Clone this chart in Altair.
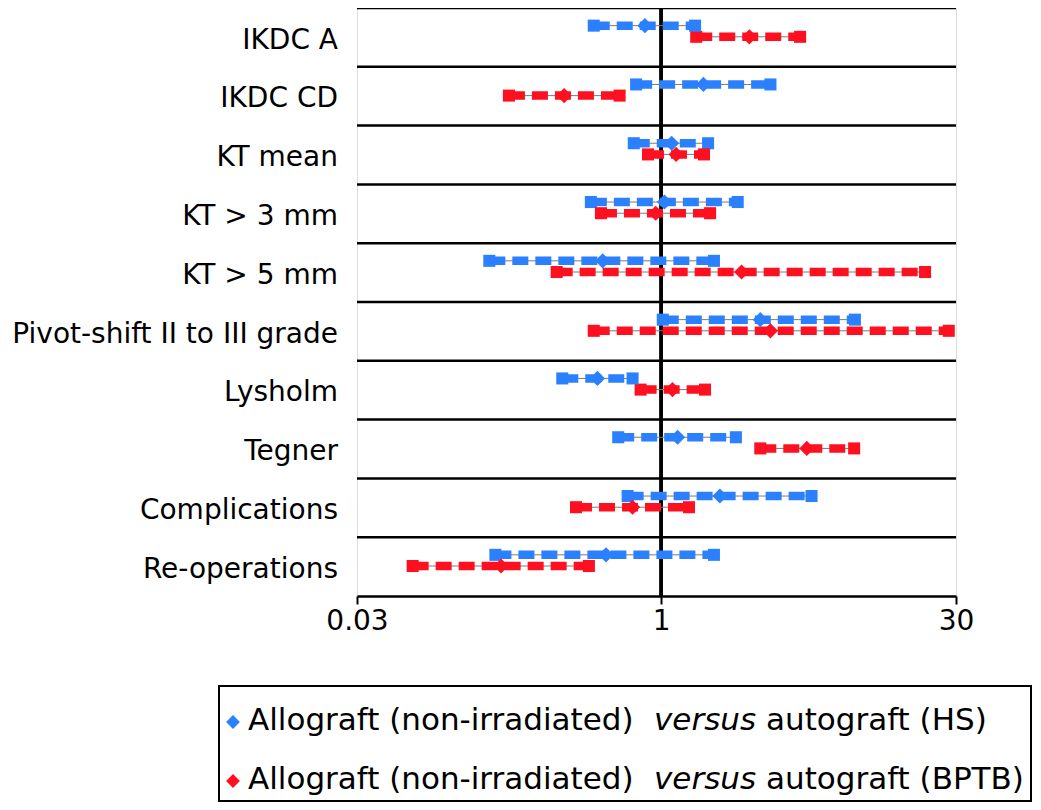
import altair as alt
import pandas as pd

categories = ["IKDC A", "IKDC CD", "KT mean", "KT > 3 mm", "KT > 5 mm",
              "Pivot-shift II to III grade", "Lysholm", "Tegner",
              "Complications", "Re-operations"]
series_names = ["Allograft (non-irradiated) versus autograft (HS)",
                "Allograft (non-irradiated) versus autograft (BPTB)"]
series_colors = ["#2b80ff", "#ff1020"]

hs_lower = [0.46, 0.75, 0.73, 0.445, 0.138, 1.02, 0.32, 0.61, 0.68, 0.148]
hs_point = [0.83, 1.63, 1.13, 1.04, 0.51, 3.14, 0.48, 1.21, 1.97, 0.53]
hs_upper = [1.48, 3.53, 1.72, 2.42, 1.84, 9.35, 0.72, 2.37, 5.67, 1.84]

bptb_lower = [1.50, 0.173, 0.86, 0.50, 0.30, 0.46, 0.79, 3.14, 0.375, 0.057]
bptb_point = [2.77, 0.327, 1.19, 0.94, 2.53, 3.53, 1.14, 5.37, 0.72, 0.158]
bptb_upper = [4.97, 0.62, 1.64, 1.76, 21.0, 27.6, 1.66, 9.27, 1.38, 0.435]

x_ticks = [0.03, 1, 30]

legend_prefix = "Allograft (non-irradiated)"
legend_italic = "versus"
legend_suffixes = ["autograft (HS)", "autograft (BPTB)"]

# ---------------------------------------------------------------
rows = []
for i, c in enumerate(categories):
    rows.append(dict(category=c, idx=i, series=series_names[0], off=0.30,
                     lo=hs_lower[i], pt=hs_point[i], hi=hs_upper[i]))
    rows.append(dict(category=c, idx=i, series=series_names[1], off=0.49,
                     lo=bptb_lower[i], pt=bptb_point[i], hi=bptb_upper[i]))
df = pd.DataFrame(rows)
cat_df = pd.DataFrame({"category": categories, "idx": list(range(len(categories)))})

W, H = 599, 588
FONT = "DejaVu Sans"

xscale = alt.Scale(type="log", domain=[0.03, 30], nice=False)
yscale = alt.Scale(domain=[0, 10], reverse=True, nice=False, zero=False)
xaxis = alt.Axis(values=x_ticks, format="~g", title=None, grid=False,
                 domainColor="black", domainWidth=2.5, tickColor="black",
                 tickWidth=2, tickSize=8, labelFontSize=28, labelFont=FONT,
                 labelColor="black", labelPadding=3, labelFlush=False)
color = alt.Color("series:N", scale=alt.Scale(domain=series_names, range=series_colors),
                  legend=None)

base = alt.Chart(df).transform_calculate(yy="datum.idx + datum.off")

sep = alt.Chart(cat_df).mark_rule(color="black", strokeWidth=2.5).encode(
    y=alt.Y("idx:Q", scale=yscale, axis=None),
    x=alt.value(0), x2=alt.value(W))

vline = alt.Chart(cat_df).mark_rule(color="black", strokeWidth=2.5).encode(
    x=alt.datum(1, scale=xscale, axis=xaxis),
    y=alt.value(0), y2=alt.value(H))

connector = base.mark_rule(color="#7a7a7a", strokeWidth=1).encode(
    x=alt.X("lo:Q", scale=xscale, axis=xaxis), x2="hi:Q",
    y=alt.Y("yy:Q", scale=yscale, axis=None))

dashes = base.mark_rule(strokeWidth=8.5, strokeDash=[16, 7], strokeCap="butt").encode(
    x=alt.X("lo:Q", scale=xscale, axis=xaxis), x2="hi:Q",
    y=alt.Y("yy:Q", scale=yscale, axis=None), color=color)

ends_lo = base.mark_square(size=145, opacity=1).encode(
    x=alt.X("lo:Q", scale=xscale, axis=xaxis),
    y=alt.Y("yy:Q", scale=yscale, axis=None), color=color)
ends_hi = base.mark_square(size=145, opacity=1).encode(
    x=alt.X("hi:Q", scale=xscale, axis=xaxis),
    y=alt.Y("yy:Q", scale=yscale, axis=None), color=color)
points = base.mark_point(shape="diamond", filled=True, size=230, opacity=1).encode(
    x=alt.X("pt:Q", scale=xscale, axis=xaxis),
    y=alt.Y("yy:Q", scale=yscale, axis=None), color=color)

labels = alt.Chart(cat_df).transform_calculate(yy="datum.idx + 0.69").mark_text(
    align="right", baseline="alphabetic", fontSize=28, font=FONT, color="black").encode(
    y=alt.Y("yy:Q", scale=yscale, axis=None), x=alt.value(-19), text="category:N")

one = pd.DataFrame({"a": [0]})
legend_box = alt.Chart(one).mark_rect(fill="white", fillOpacity=0, stroke="black",
                                      strokeWidth=2).encode(
    x=alt.value(-138), x2=alt.value(674), y=alt.value(678), y2=alt.value(793))

legend_layers = [legend_box]
for k in range(2):
    base_y = 722 + 59 * k
    legend_layers.append(alt.Chart(one).mark_point(
        shape="diamond", filled=True, size=190, opacity=1, color=series_colors[k]).encode(
        x=alt.value(-124), y=alt.value(base_y - 8)))
    legend_layers.append(alt.Chart(one).mark_text(
        align="left", baseline="alphabetic", fontSize=31, font=FONT, color="black",
        text=legend_prefix).encode(x=alt.value(-109), y=alt.value(base_y)))
    legend_layers.append(alt.Chart(one).mark_text(
        align="left", baseline="alphabetic", fontSize=31, font=FONT, color="black",
        fontStyle="italic", text=legend_italic).encode(x=alt.value(297), y=alt.value(base_y)))
    legend_layers.append(alt.Chart(one).mark_text(
        align="left", baseline="alphabetic", fontSize=31, font=FONT, color="black",
        text=legend_suffixes[k]).encode(x=alt.value(409), y=alt.value(base_y)))

chart = alt.layer(sep, vline, connector, dashes, ends_lo, ends_hi, points, labels,
                  *legend_layers).properties(
    width=W, height=H,
    autosize=alt.AutoSizeParams(type="none"),
    padding={"left": 349, "top": 0, "right": 76, "bottom": 206},
).configure_view(stroke=None).configure(background="white")

chart.save("out.html", embed_options={"renderer": "svg", "actions": False})
